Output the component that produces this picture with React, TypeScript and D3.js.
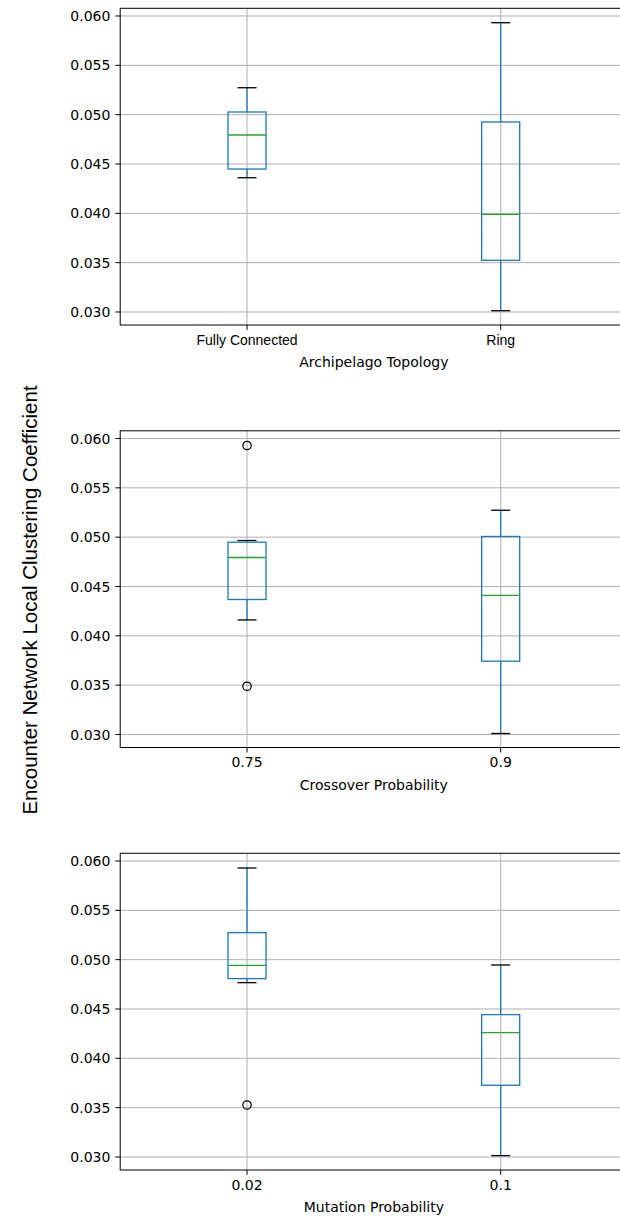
import React from "react";
import * as d3 from "d3";

// Box statistics per group: [lower whisker, Q1, median, Q3, upper whisker]
const topologyCategories = ["Fully Connected", "Ring"];
const topologyStats = [
  [0.04361, 0.04449, 0.04794, 0.05027, 0.05273],
  [0.03013, 0.03524, 0.0399, 0.04926, 0.05932],
];
const topologyFliers: number[][] = [[], []];

const crossoverCategories = ["0.75", "0.9"];
const crossoverStats = [
  [0.04161, 0.04368, 0.04794, 0.04949, 0.04966],
  [0.0301, 0.03743, 0.04409, 0.05007, 0.05273],
];
const crossoverFliers: number[][] = [[0.05929, 0.03489], []];

const mutationCategories = ["0.02", "0.1"];
const mutationStats = [
  [0.04767, 0.04808, 0.04943, 0.05274, 0.05929],
  [0.03014, 0.03727, 0.04261, 0.04443, 0.04946],
];
const mutationFliers: number[][] = [[0.03527], []];

const yTicks = [0.03, 0.035, 0.04, 0.045, 0.05, 0.055, 0.06];
const yDomain = [0.028682, 0.06078];

const panels = [
  { title: "Archipelago Topology", categories: topologyCategories, stats: topologyStats, fliers: topologyFliers, textLabels: true },
  { title: "Crossover Probability", categories: crossoverCategories, stats: crossoverStats, fliers: crossoverFliers, textLabels: false },
  { title: "Mutation Probability", categories: mutationCategories, stats: mutationStats, fliers: mutationFliers, textLabels: false },
];

const W = 620;
const H = 1218;
const axLeft = 120.2;
const axRight = 627.5;
const axHeight = 316.7;
const firstTop = 8.3;
const panelStep = 422.5;

const BLUE = "#1f77b4";
const GREEN = "#2ca02c";
const GRID = "#b0b0b0";
const DEJAVU = "'DejaVu Sans', sans-serif";
const ARIAL = "'Liberation Sans', Arial, sans-serif";

function Panel({ p, top }: { p: (typeof panels)[number]; top: number }) {
  const bottom = top + axHeight;
  const x = d3.scaleLinear().domain([0.5, 2.5]).range([axLeft, axRight]);
  const y = d3.scaleLinear().domain(yDomain).range([bottom, top]);
  const boxHalf = (x(1.075) - x(0.925)) / 2;
  const capHalf = boxHalf / 2;
  const tickLen = 4.9;
  return (
    <g>
      {/* grid */}
      {yTicks.map((t) => (
        <line key={"gy" + t} x1={axLeft} x2={axRight} y1={y(t)} y2={y(t)} stroke={GRID} strokeWidth={1} />
      ))}
      {p.categories.map((c, i) => (
        <line key={"gx" + c} x1={x(i + 1)} x2={x(i + 1)} y1={top} y2={bottom} stroke={GRID} strokeWidth={1} />
      ))}
      {/* boxes */}
      {p.stats.map((s, i) => {
        const cx = x(i + 1);
        const [lo, q1, med, q3, hi] = s;
        return (
          <g key={"b" + i}>
            <line x1={cx} x2={cx} y1={y(q3)} y2={y(hi)} stroke={BLUE} strokeWidth={1.3} />
            <line x1={cx} x2={cx} y1={y(q1)} y2={y(lo)} stroke={BLUE} strokeWidth={1.3} />
            <line x1={cx - capHalf} x2={cx + capHalf} y1={y(hi)} y2={y(hi)} stroke="#000" strokeWidth={1.3} />
            <line x1={cx - capHalf} x2={cx + capHalf} y1={y(lo)} y2={y(lo)} stroke="#000" strokeWidth={1.3} />
            <rect x={cx - boxHalf} y={y(q3)} width={boxHalf * 2} height={y(q1) - y(q3)} fill="none" stroke={BLUE} strokeWidth={1.3} />
            <line x1={cx - boxHalf} x2={cx + boxHalf} y1={y(med)} y2={y(med)} stroke={GREEN} strokeWidth={1.3} />
            {p.fliers[i].map((f, j) => (
              <circle key={j} cx={cx} cy={y(f)} r={4.2} fill="none" stroke="#000" strokeWidth={1.2} />
            ))}
          </g>
        );
      })}
      {/* spines */}
      <rect x={axLeft} y={top} width={axRight - axLeft} height={axHeight} fill="none" stroke="#000" strokeWidth={1} />
      {/* y ticks */}
      {yTicks.map((t) => (
        <g key={"ty" + t}>
          <line x1={axLeft - tickLen} x2={axLeft} y1={y(t)} y2={y(t)} stroke="#000" strokeWidth={1} />
          <text x={axLeft - tickLen - 4.9} y={y(t)} dy="0.36em" textAnchor="end" fontFamily={DEJAVU} fontSize={14} fill="#000">
            {d3.format(".3f")(t)}
          </text>
        </g>
      ))}
      {/* x ticks */}
      {p.categories.map((c, i) => (
        <g key={"tx" + c}>
          <line x1={x(i + 1)} x2={x(i + 1)} y1={bottom} y2={bottom + tickLen} stroke="#000" strokeWidth={1} />
          <text x={x(i + 1)} y={bottom + 19.6} textAnchor="middle" fontFamily={p.textLabels ? ARIAL : DEJAVU} fontSize={14} fill="#000">
            {c}
          </text>
        </g>
      ))}
      <text x={(axLeft + axRight) / 2} y={bottom + 42.3} textAnchor="middle" fontFamily={DEJAVU} fontSize={14} fill="#000">
        {p.title}
      </text>
    </g>
  );
}

export default function App() {
  return (
    <svg width={W} height={H} style={{ position: "absolute", left: 0, top: 0, background: "#fff" }}>
      <rect x={0} y={0} width={W} height={H} fill="#fff" />
      {panels.map((p, i) => (
        <Panel key={p.title} p={p} top={firstTop + i * panelStep} />
      ))}
      <text
        transform={`translate(36.5,600) rotate(-90)`}
        textAnchor="middle"
        fontFamily={ARIAL}
        fontSize={20.5}
        fill="#000"
      >
        Encounter Network Local Clustering Coefficient
      </text>
    </svg>
  );
}
